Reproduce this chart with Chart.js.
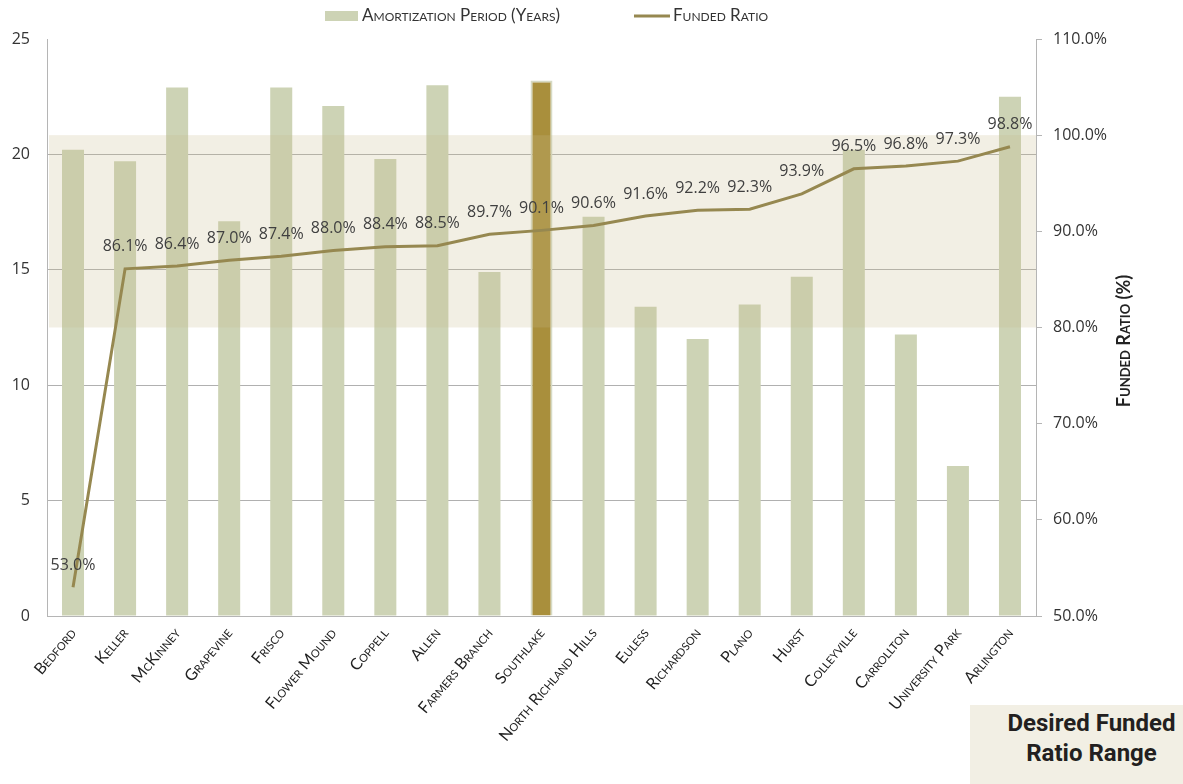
<!DOCTYPE html>
<html><head><meta charset="utf-8">
<script src="https://cdn.jsdelivr.net/npm/chart.js@4.4.0/dist/chart.umd.min.js"></script>
<style>
html,body{margin:0;padding:0;background:#fff;}
#wrap{position:relative;width:1183px;height:784px;overflow:hidden;}
#box{position:absolute;left:970px;top:705px;width:213px;height:79px;background:#f2efe4;font-family:Roboto,sans-serif;font-weight:700;font-size:24px;color:#231f20;text-align:center;line-height:30px;padding-left:30px;box-sizing:border-box;padding-top:3px;white-space:nowrap;}
</style></head><body>
<div id="wrap"><canvas id="c" width="1183" height="784"></canvas>
<div id="box">Desired Funded<br>Ratio Range</div></div>
<script>
const categories = ['Bedford','Keller','McKinney','Grapevine','Frisco','Flower Mound','Coppell','Allen','Farmers Branch','Southlake','North Richland Hills','Euless','Richardson','Plano','Hurst','Colleyville','Carrollton','University Park','Arlington'];
const amortizationYears = [20.2,19.7,22.9,17.1,22.9,22.1,19.8,23.0,14.9,23.2,17.3,13.4,12.0,13.5,14.7,20.2,12.2,6.5,22.5];
const fundedRatio = [53.0,86.1,86.4,87.0,87.4,88.0,88.4,88.5,89.7,90.1,90.6,91.6,92.2,92.3,93.9,96.5,96.8,97.3,98.8];
const highlightCity = 'Southlake';
const desiredRange = [80, 100];
const seriesNames = ['Amortization Period (Years)', 'Funded Ratio'];
const rightAxisTitle = 'Funded Ratio (%)';

const BAR = '#cdd3b5', BAR_HI = '#a98f3c', LINE = '#968850';

const bandPlugin = {
  id: 'band',
  afterDatasetDraw(chart, args) {
    if (args.index !== 0) return;
    const {ctx, chartArea} = chart;
    const y1 = chart.scales.y1;
    const top = y1.getPixelForValue(desiredRange[1]);
    const bot = y1.getPixelForValue(desiredRange[0]);
    ctx.save();
    ctx.fillStyle = 'rgba(198,185,138,0.23)';
    ctx.fillRect(chartArea.left + 2, top, chartArea.right - chartArea.left - 2, bot - top);
    ctx.restore();
  }
};

const labelPlugin = {
  id: 'pctLabels',
  afterDatasetsDraw(chart) {
    const {ctx} = chart;
    const meta = chart.getDatasetMeta(1);
    ctx.save();
    ctx.font = '16px "Open Sans"';
    ctx.fillStyle = '#404040';
    ctx.textAlign = 'center';
    ctx.textBaseline = 'middle';
    meta.data.forEach((pt, i) => {
      ctx.fillText(fundedRatio[i].toFixed(1) + '%', pt.x, pt.y - 22);
    });
    ctx.restore();
  }
};

const legendPlugin = {
  id: 'customLegend',
  afterDraw(chart) {
    const {ctx} = chart;
    ctx.save();
    ctx.font = 'small-caps 17px Lato';
    ctx.textBaseline = 'middle';
    let x = 325;
    const y = 16;
    ctx.fillStyle = BAR;
    ctx.fillRect(x, y - 5, 33, 10);
    ctx.fillStyle = '#333';
    ctx.fillText(seriesNames[0], x + 37, y);
    x = x + 37 + ctx.measureText(seriesNames[0]).width + 74;
    ctx.strokeStyle = LINE;
    ctx.lineWidth = 3;
    ctx.beginPath(); ctx.moveTo(x, y); ctx.lineTo(x + 36, y); ctx.stroke();
    ctx.fillText(seriesNames[1], x + 39, y);
    // right axis title
    ctx.translate(1124, 341);
    ctx.rotate(-Math.PI / 2);
    ctx.font = 'small-caps bold 18px Lato';
    ctx.textAlign = 'center';
    ctx.fillStyle = '#222';
    ctx.fillText(rightAxisTitle, 0, 0);
    ctx.restore();
  }
};

new Chart(document.getElementById('c'), {
  data: {
    labels: categories,
    datasets: [
      {
        type: 'bar', label: seriesNames[0], data: amortizationYears, yAxisID: 'y', order: 2,
        backgroundColor: categories.map(c => c === highlightCity ? BAR_HI : BAR),
        borderColor: categories.map(c => c === highlightCity ? '#d6dac4' : BAR),
        borderWidth: categories.map(c => c === highlightCity ? 2 : 0),
        categoryPercentage: 1, barPercentage: 0.423
      },
      {
        type: 'line', label: seriesNames[1], data: fundedRatio, yAxisID: 'y1', order: 1,
        borderColor: LINE, borderWidth: 3, pointRadius: 0, tension: 0, fill: false
      }
    ]
  },
  options: {
    responsive: false, animation: false,
    layout: { padding: { top: 39, left: 0, right: 0, bottom: 0 } },
    plugins: { legend: { display: false }, tooltip: { enabled: false } },
    scales: {
      x: {
        grid: { display: false, drawTicks: false },
        border: { display: true, color: '#b5b5b5', width: 1 },
        ticks: { autoSkip: false, minRotation: 50, maxRotation: 50, padding: 8, color: '#222',
                 font: { family: 'Lato', size: 16, weight: 'small-caps' } },
        afterFit(s) { s.height = 168; }
      },
      y: {
        position: 'left', min: 0, max: 25,
        ticks: { stepSize: 5, padding: 17, color: '#333', font: { family: 'Open Sans', size: 16 } },
        grid: { drawTicks: false, color: ctx => ctx.tick && ctx.tick.value === 25 ? 'rgba(0,0,0,0)' : '#b0b0b0' },
        border: { color: '#b5b5b5', width: 1 },
        afterFit(s) { s.width = 47; }
      },
      y1: {
        position: 'right', min: 50, max: 110,
        ticks: { stepSize: 10, padding: 11, color: '#333', font: { family: 'Open Sans', size: 16 },
                 callback: v => v.toFixed(1) + '%' },
        grid: { drawOnChartArea: false, tickLength: 6, color: '#b5b5b5' },
        border: { color: '#b5b5b5', width: 1 },
        afterFit(s) { s.width = 147; }
      }
    }
  },
  plugins: [bandPlugin, labelPlugin, legendPlugin]
});
</script>
</body></html>
